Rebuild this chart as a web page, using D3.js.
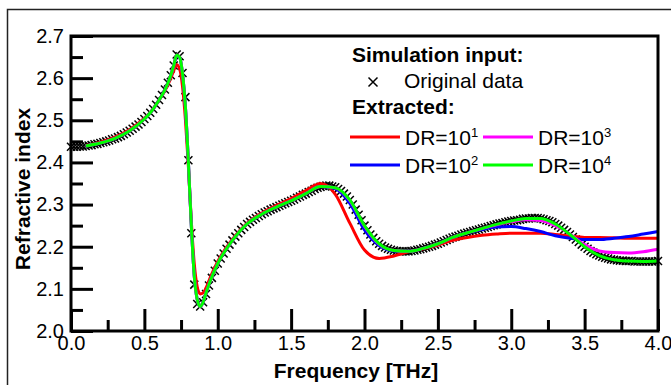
<!DOCTYPE html>
<html><head><meta charset="utf-8">
<script src="https://cdn.jsdelivr.net/npm/d3@7"></script>
<style>
html,body{margin:0;padding:0;background:#fff;}
svg{display:block;font-family:"Liberation Sans",Arial,sans-serif;}
</style></head>
<body><svg id="chart" width="671" height="385"></svg>
<script>
// ---- data ----
const origStep = 0.02;
const origN = [
2.437,2.437,2.437,2.438,2.438,2.439,2.440,2.441,2.443,2.444,
2.446,2.448,2.450,2.452,2.455,2.457,2.460,2.463,2.467,2.471,
2.475,2.480,2.485,2.490,2.496,2.503,2.510,2.518,2.527,2.537,
2.548,2.560,2.573,2.589,2.607,2.630,2.656,2.652,2.612,2.555,
2.405,2.232,2.110,2.064,2.058,2.068,2.088,2.108,2.126,2.143,
2.160,2.172,2.184,2.195,2.205,2.215,2.224,2.232,2.240,2.247,
2.254,2.259,2.264,2.268,2.273,2.277,2.281,2.284,2.288,2.291,
2.294,2.297,2.300,2.303,2.306,2.309,2.312,2.316,2.319,2.323,
2.326,2.330,2.333,2.337,2.340,2.342,2.344,2.345,2.345,2.343,
2.341,2.337,2.332,2.326,2.319,2.311,2.300,2.288,2.276,2.263,
2.250,2.239,2.229,2.221,2.213,2.207,2.202,2.198,2.195,2.193,
2.191,2.190,2.189,2.189,2.189,2.189,2.190,2.191,2.193,2.194,
2.196,2.198,2.200,2.202,2.205,2.207,2.210,2.213,2.216,2.219,
2.222,2.224,2.226,2.229,2.231,2.233,2.235,2.237,2.239,2.241,
2.243,2.245,2.247,2.249,2.251,2.253,2.255,2.256,2.258,2.260,
2.261,2.262,2.263,2.264,2.266,2.267,2.267,2.268,2.268,2.268,
2.267,2.265,2.263,2.261,2.258,2.254,2.250,2.245,2.240,2.235,
2.229,2.223,2.217,2.211,2.205,2.200,2.195,2.190,2.186,2.182,
2.179,2.176,2.174,2.172,2.170,2.169,2.168,2.167,2.167,2.166,
2.166,2.166,2.165,2.165,2.165,2.165,2.165,2.165,2.165,2.165,
2.166
];
const lineFreq = [0.1,0.2,0.3,0.4,0.5,0.55,0.6,0.64,0.68,0.70,0.72,0.74,0.76,0.78,0.80,0.82,0.84,0.86,0.88,0.90,0.92,0.95,
1.0,1.1,1.2,1.3,1.4,1.5,1.6,1.7,1.8,1.9,2.0,2.1,2.2,2.3,2.4,2.5,2.6,2.7,2.8,2.9,3.0,3.1,3.2,3.3,3.4,3.5,3.6,3.7,3.8,3.9,4.0];
const dr1 = [2.440,2.448,2.460,2.478,2.505,2.523,2.548,2.570,2.600,2.618,2.632,2.622,2.580,2.500,2.390,2.260,2.160,2.105,2.088,2.090,2.102,2.128,
2.165,2.218,2.256,2.280,2.298,2.314,2.333,2.350,2.325,2.256,2.192,2.172,2.178,2.188,2.195,2.204,2.215,2.222,2.227,2.230,2.232,2.232,2.232,2.229,2.225,2.222,2.222,2.221,2.220,2.220,2.220];
const dr2 = [2.439,2.446,2.457,2.475,2.503,2.522,2.548,2.572,2.607,2.630,2.654,2.649,2.610,2.530,2.400,2.250,2.130,2.075,2.058,2.068,2.090,2.120,
2.160,2.215,2.254,2.277,2.294,2.309,2.326,2.343,2.338,2.303,2.240,2.203,2.190,2.189,2.196,2.207,2.222,2.233,2.241,2.247,2.248,2.243,2.236,2.226,2.220,2.217,2.217,2.220,2.224,2.230,2.236];
const dr3 = [2.439,2.446,2.457,2.475,2.503,2.522,2.548,2.572,2.607,2.630,2.655,2.650,2.610,2.530,2.400,2.250,2.130,2.075,2.058,2.068,2.090,2.120,
2.160,2.215,2.254,2.277,2.294,2.309,2.326,2.343,2.340,2.310,2.249,2.206,2.191,2.189,2.196,2.207,2.222,2.233,2.243,2.252,2.259,2.264,2.262,2.250,2.230,2.205,2.190,2.186,2.185,2.188,2.194];
const dr4 = [2.439,2.446,2.457,2.475,2.503,2.522,2.548,2.572,2.607,2.630,2.655,2.650,2.610,2.530,2.400,2.250,2.130,2.075,2.058,2.068,2.090,2.120,
2.160,2.215,2.254,2.277,2.294,2.309,2.326,2.343,2.340,2.311,2.250,2.207,2.191,2.189,2.196,2.207,2.222,2.233,2.243,2.253,2.261,2.267,2.267,2.254,2.229,2.200,2.179,2.169,2.166,2.165,2.166];
const xTicks = [0,0.5,1.0,1.5,2.0,2.5,3.0,3.5,4.0];
const xMinor = [0.25,0.75,1.25,1.75,2.25,2.75,3.25,3.75];
const yTicks = [2.0,2.1,2.2,2.3,2.4,2.5,2.6,2.7];
const yMinor = [2.05,2.15,2.25,2.35,2.45,2.55,2.65];
const series = [
  {name:"DR=10", sup:"1", color:"#ff0000", vals:dr1},
  {name:"DR=10", sup:"2", color:"#0000ff", vals:dr2},
  {name:"DR=10", sup:"3", color:"#ff00ff", vals:dr3},
  {name:"DR=10", sup:"4", color:"#00ff00", vals:dr4}
];

// ---- chart ----
const svg = d3.select("#chart");
const L=71, R=658, T=36, B=331;
const x = d3.scaleLinear().domain([0,4]).range([L,R]);
const y = d3.scaleLinear().domain([2.0,2.7]).range([B,T]);

// outer frame
svg.append("path").attr("d","M7.5,390 V9.5 H680").attr("fill","none").attr("stroke","#222").attr("stroke-width",1.5);

// markers
const orig = origN.map((v,i)=>({f:+(i*origStep).toFixed(3), v}));
const s = 4;
svg.append("g").selectAll("path").data(orig).join("path")
  .attr("d", d=>{const cx=x(d.f), cy=y(d.v); return `M${cx-s},${cy-s}L${cx+s},${cy+s}M${cx-s},${cy+s}L${cx+s},${cy-s}`;})
  .attr("stroke","#000").attr("stroke-width",1.5).attr("fill","none");

// lines
const line = d3.line().x((d,i)=>x(lineFreq[i])).y(d=>y(d)).curve(d3.curveMonotoneX);
series.forEach(sr=>{
  svg.append("path").attr("d",line(sr.vals)).attr("fill","none")
    .attr("stroke",sr.color).attr("stroke-width",3).attr("stroke-linejoin","round");
});

// axes
function styleAxis(g){
  g.select(".domain").remove();
  g.selectAll(".tick line").attr("stroke","#000").attr("stroke-width",3);
  g.selectAll(".tick text").attr("fill","#000").style("font-size","20px").style("font-family","'Liberation Sans',Arial,sans-serif");
}
svg.append("g").attr("transform",`translate(0,${B})`)
  .call(d3.axisBottom(x).tickValues(xTicks).tickFormat(d3.format(".1f")).tickSize(-22).tickPadding(5))
  .call(styleAxis);
svg.append("g").attr("transform",`translate(0,${B})`)
  .call(d3.axisBottom(x).tickValues(xMinor).tickFormat("").tickSize(-11))
  .call(styleAxis);
svg.append("g").attr("transform",`translate(${L},0)`)
  .call(d3.axisLeft(y).tickValues(yTicks).tickFormat(d3.format(".1f")).tickSize(-22).tickPadding(7))
  .call(styleAxis);
svg.append("g").attr("transform",`translate(${L},0)`)
  .call(d3.axisLeft(y).tickValues(yMinor).tickFormat("").tickSize(-12))
  .call(styleAxis);

// plot frame
svg.append("rect").attr("x",L).attr("y",T).attr("width",R-L).attr("height",B-T)
  .attr("fill","none").attr("stroke","#000").attr("stroke-width",3);

// axis titles
svg.append("text").attr("x",356).attr("y",378).attr("text-anchor","middle")
  .style("font-weight","bold").style("font-size","21px").text("Frequency [THz]");
svg.append("text").attr("transform","translate(30,189) rotate(-90)").attr("text-anchor","middle")
  .style("font-weight","bold").style("font-size","21px").text("Refractive index");

// legend
const lg = svg.append("g").style("font-size","21px");
lg.append("text").attr("x",352).attr("y",62).style("font-weight","bold").text("Simulation input:");
lg.append("path").attr("d","M368.5,77.5L377.5,86.5M368.5,86.5L377.5,77.5").attr("stroke","#000").attr("stroke-width",1.5);
lg.append("text").attr("x",404).attr("y",88).text("Original data");
lg.append("text").attr("x",352).attr("y",114).style("font-weight","bold").text("Extracted:");
const pos = [[350,137],[350,165],[483,137],[483,165]];
series.forEach((sr,i)=>{
  const [lx,ly]=pos[i];
  lg.append("line").attr("x1",lx).attr("x2",lx+50).attr("y1",ly).attr("y2",ly)
    .attr("stroke",sr.color).attr("stroke-width",3);
  const t = lg.append("text").attr("x",lx+55).attr("y",ly+8);
  t.append("tspan").text(sr.name);
  t.append("tspan").attr("dy",-8).style("font-size","13px").text(sr.sup);
});
</script></body></html>
